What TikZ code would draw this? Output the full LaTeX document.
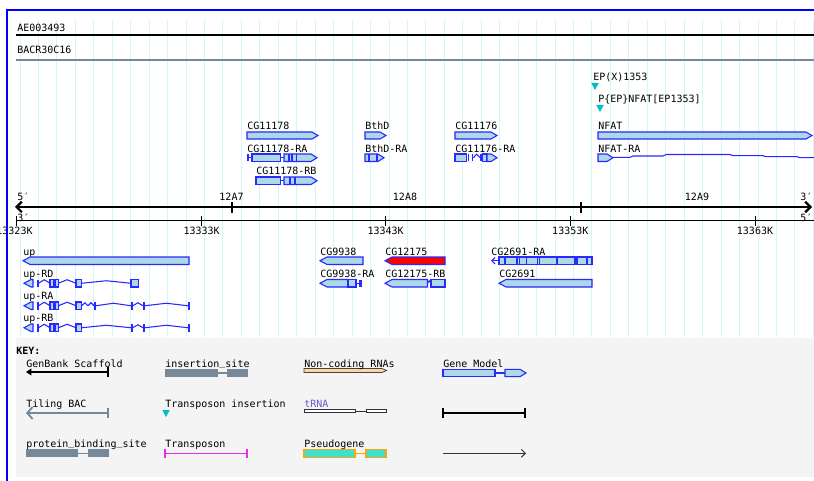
\documentclass[tikz,border=0pt]{standalone}
\usepackage{fontspec}
\newfontfamily\gbf{DejaVu Sans Mono}
\usetikzlibrary{arrows.meta}
\definecolor{gridc}{RGB}{212,245,250}
\definecolor{genefill}{RGB}{173,216,230}
\definecolor{genestroke}{RGB}{40,40,255}
\definecolor{slate}{RGB}{119,136,153}
\definecolor{keybg}{RGB}{244,244,244}
\definecolor{tmark}{RGB}{0,190,200}
\definecolor{trnac}{RGB}{106,90,205}
\definecolor{pseudof}{RGB}{64,224,208}
\definecolor{pseudos}{RGB}{255,165,0}
\definecolor{ncfill}{RGB}{245,215,180}
\definecolor{ncstroke}{RGB}{90,60,40}
\definecolor{magentac}{RGB}{235,40,235}
\definecolor{framec}{RGB}{0,0,255}
\newcommand\uscore{\raisebox{1.5pt}{\_}}
\tikzset{
  lbl/.style={anchor=base west,inner sep=0pt,font=\gbf\fontsize{7.5pt}{9pt}\selectfont},
  clbl/.style={lbl,anchor=base},
  gene/.style={draw=genestroke,fill=genefill,line width=0.8pt,line join=miter},
  intron/.style={draw=genestroke,line width=0.8pt},
}
% forward gene box: x1 x2 ytop ybot
\newcommand\gF[4]{\draw[gene] (#1,#3) -- (#2-6,#3) -- (#2,{(#3+#4)/2}) -- (#2-6,#4) -- (#1,#4) -- cycle;}
% reverse gene box: tip x1, end x2
\newcommand\gR[5][genefill]{\draw[gene,fill=#1] (#2,{(#4+#5)/2}) -- (#2+7,#4) -- (#3,#4) -- (#3,#5) -- (#2+7,#5) -- cycle;}
% exon box
\newcommand\gB[4]{\draw[gene] (#1,#3) rectangle (#2,#4);}
% divider inside box
\newcommand\gD[3]{\draw[genestroke,line width=0.8pt] (#1,#2) -- (#1,#3);}
% thin exon
\newcommand\gT[3]{\fill[genestroke] (#1,#2) rectangle (#1+1.8,#3);}
% hat intron: x1 x2 ymid height
\newcommand\gH[4]{\draw[intron] (#1,#3) -- ({(#1+#2)/2},#3-#4) -- (#2,#3);}
% straight intron
\newcommand\gL[3]{\draw[intron] (#1,#3) -- (#2,#3);}
\begin{document}
\begin{tikzpicture}[x=0.75pt,y=-0.75pt]
\useasboundingbox (0,0) rectangle (814,481);
\fill[white] (0,0) rectangle (814,481);
% grid
\foreach \k in {0,...,43} \draw[gridc,line width=0.75pt] ({20+18.45*\k},20) -- ({20+18.45*\k},337);
% key background
\fill[keybg] (16,338) rectangle (814,477);

% scaffold and BAC
\node[lbl] (ae) at (17,31.5) {AE003493};
\draw[black,line width=1.5pt] (16,35) -- (814,35);
\node[lbl] (bac) at (17,53.5) {BACR30C16};
\draw[slate,line width=1.7pt] (16,60) -- (814,60);

% transposon insertions
\node[lbl] (ep1) at (593,81) {EP(X)1353};
\fill[tmark] (591.3,83) -- (598.7,83) -- (595,90) -- cycle;
\node[lbl] (ep2) at (598,103) {P\{EP\}NFAT[EP1353]};
\fill[tmark] (596.3,105) -- (603.7,105) -- (600,112) -- cycle;

% upper genes row 1
\node[lbl] (g1) at (247,130) {CG11178};
\gF{247}{318}{132}{139}
\node[lbl] (g2) at (365,130) {BthD};
\gF{365}{386}{132}{139}
\node[lbl] (g3) at (455,130) {CG11176};
\gF{455}{497}{132}{139}
\node[lbl] (g4) at (598,130) {NFAT};
\gF{598}{812}{132}{139}

% upper genes row 2
\node[lbl] (t1) at (247,152.5) {CG11178-RA};
\gT{247}{154}{161.5}
\gL{249}{252}{157.75}
\gB{252}{280.7}{154}{161.5}
\gL{280.7}{284}{157.75}
\gF{284}{317}{154}{161.5}
\gD{289}{154}{161.5}\gD{292}{154}{161.5}\gD{296.5}{154}{161.5}
\node[lbl] (t2) at (365,152.5) {BthD-RA};
\gF{365}{384}{154}{161.5}
\gD{369}{154}{161.5}\gD{377}{154}{161.5}
\node[lbl] (t3) at (455,152.5) {CG11176-RA};
\gB{455}{466.5}{154}{161.5}
\gT{467.5}{154}{161.5}
\gT{471.5}{154}{161.5}
\gH{473.3}{480}{157.75}{3.5}
\gT{480}{154}{161.5}
\gB{482.5}{487}{154}{161.5}
\gF{487}{497}{154}{161.5}
\node[lbl] (t4) at (598,152.5) {NFAT-RA};
\gF{598}{613}{154}{161.5}
\draw[intron] (613,157.3) -- (630,157.3) -- (633,156) -- (663,156) -- (666,154.5) -- (730,154.5) -- (733,155.7) -- (763,155.7) -- (766,156.7) -- (797,156.7) -- (800,157.7) -- (814,157.7);

% upper genes row 3
\node[lbl] (t5) at (256,175) {CG11178-RB};
\gB{256}{280.5}{177}{184.5}
\gL{280.5}{284}{180.75}
\gF{284}{317}{177}{184.5}
\gD{290}{177}{184.5}\gD{295}{177}{184.5}

% axis
\draw[black,line width=2pt,{Straight Barb[length=4pt,width=8pt,line width=1.6pt]}-{Straight Barb[length=4pt,width=8pt,line width=1.6pt]}] (15,207) -- (812,207);
\draw[black,line width=1.5pt] (232,202) -- (232,213);
\draw[black,line width=1.5pt] (581,202) -- (581,213);
\node[lbl] (p5l) at (17,200) {5′};
\node[clbl] (b7) at (231.5,200.5) {12A7};
\node[clbl] (b8) at (405,200.5) {12A8};
\node[clbl] (b9) at (697,200.5) {12A9};
\node[lbl] (p3r) at (800,200.5) {3′};
\node[lbl] (p3l) at (17,221) {3′};
\node[lbl] (p5r) at (800,221.5) {5′};

% scale
\draw[black,line width=0.75pt] (17,221) -- (814,221);
\foreach \xx/\tt [count=\i] in {16.7/13323K,201.7/13333K,385.7/13343K,570.3/13353K,755/13363K}{
  \draw[black,line width=0.75pt] (\xx,216.5) -- (\xx,226);
}
\node[clbl] (s1) at (14.5,234) {13323K};
\node[clbl] (s2) at (201.7,234) {13333K};
\node[clbl] (s3) at (385.7,234) {13343K};
\node[clbl] (s4) at (570.3,234) {13353K};
\node[clbl] (s5) at (755,234) {13363K};

% lower genes row A
\node[lbl] (u0) at (23,255.5) {up};
\gR{23}{189}{257}{264.5}
\node[lbl] (c1) at (320,255.5) {CG9938};
\gR{320}{363}{257}{264.5}
\node[lbl] (c2) at (385,255.5) {CG12175};
\gR[red]{385}{445}{257}{264.5}
\node[lbl] (c3) at (491,255.5) {CG2691-RA};
\draw[genestroke,line width=0.8pt,-{Straight Barb[length=2.5pt,width=5pt]}] (499,260.75) -- (491,260.75);
\gB{499}{575}{257}{264.5}
\foreach \d in {505,517,519.5,526.5,537.5,539.5,557} {\gD{\d}{257}{264.5}}
\gH{575}{577}{260.75}{2}
\gB{577}{592}{257}{264.5}
\gD{587}{257}{264.5}

% lower genes row B
\node[lbl] (u1) at (23,277.5) {up-RD};
\gR{24}{33}{279.5}{287}
\gT{36.7}{279.5}{287}
\gH{38.5}{50}{283.25}{3.5}
\gB{50}{58.3}{279.5}{287}
\gD{53.3}{279.5}{287}\gD{55}{279.5}{287}
\gH{58.3}{76}{283.25}{3.5}
\gB{76}{81.7}{279.5}{287}
\gH{81.7}{131}{283.25}{2.5}
\gB{131}{138.3}{279.5}{287}
\node[lbl] (c4) at (320,277.5) {CG9938-RA};
\gR{320}{348}{279.5}{287}
\gB{348}{356}{279.5}{287}
\gL{356}{358.5}{283.25}
\fill[genestroke] (358.5,279.5) rectangle (362,287);
\node[lbl] (c5) at (385,277.5) {CG12175-RB};
\gR{385}{427.5}{279.5}{287}
\gH{427.5}{431}{283.25}{2.5}
\gB{431}{445}{279.5}{287}
\node[lbl] (c6) at (499,277.5) {CG2691};
\gR{499}{592}{279.5}{287}

% up-RA
\node[lbl] (u2) at (23,299.5) {up-RA};
\gR{24}{33}{302}{309.5}
\gT{36.7}{302}{309.5}
\gH{38.5}{50}{305.75}{3.5}
\gB{50}{58.3}{302}{309.5}
\gD{53.3}{302}{309.5}\gD{55}{302}{309.5}
\gH{58.3}{76}{305.75}{3.5}
\gB{76}{81.7}{302}{309.5}
\gH{81.7}{88}{305.75}{3}
\gH{88}{94}{305.75}{3}
\gT{94}{302}{309.5}
\gH{95.8}{131}{305.75}{2.5}
\gT{131}{302}{309.5}
\gH{132.8}{143}{305.75}{3}
\gT{143}{302}{309.5}
\gH{144.8}{188}{305.75}{2.5}
\gT{188}{302}{309.5}

% up-RB
\node[lbl] (u3) at (23,321.5) {up-RB};
\gR{24}{33}{324}{331.5}
\gT{36.7}{324}{331.5}
\gH{38.5}{50}{327.75}{3.5}
\gB{50}{58.3}{324}{331.5}
\gD{53.3}{324}{331.5}\gD{55}{324}{331.5}
\gH{58.3}{76}{327.75}{3.5}
\gB{76}{81.7}{324}{331.5}
\gH{81.7}{131}{327.75}{2.5}
\gT{131}{324}{331.5}
\gH{132.8}{143}{327.75}{3}
\gT{143}{324}{331.5}
\gH{144.8}{188}{327.75}{2.5}
\gT{188}{324}{331.5}

% KEY glyphs
\draw[black,line width=1.3pt,{Triangle[length=4pt,width=5pt]}-] (26,372) -- (108,372);
\draw[black,line width=1.1pt] (108,367) -- (108,377);
\fill[slate] (165,369.3) rectangle (218,376.7);
\draw[slate,line width=0.8pt] (218,373) -- (227,373);
\fill[slate] (227,369.3) rectangle (248,376.7);
\draw[draw=ncstroke,fill=ncfill,line width=0.6pt] (304,368.5) -- (382,368.5) -- (386.5,370.5) -- (382,372.5) -- (304,372.5) -- cycle;
\gB{443}{495}{369.3}{376.7}
\gL{495}{505}{373}
\gF{505}{526}{369.3}{376.7}
\draw[slate,line width=1.6pt,{Straight Barb[length=4pt,width=9pt,line width=1.4pt]}-] (26,413) -- (108,413);
\draw[slate,line width=1.2pt] (108,408) -- (108,418);
\fill[tmark] (162.3,410) -- (169.7,410) -- (166,417) -- cycle;
\draw[black!80,fill=white,line width=0.6pt] (304,409.3) rectangle (355,412.7);
\draw[black!80,line width=0.6pt] (355,411) -- (366,411);
\draw[black!80,fill=white,line width=0.6pt] (366,409.3) rectangle (386,412.7);
\draw[black,line width=1.8pt] (443,413) -- (525,413);
\draw[black,line width=1.5pt] (443,408) -- (443,418);
\draw[black,line width=1.5pt] (525,408) -- (525,418);
\fill[slate] (26,449.3) rectangle (78,457.3);
\draw[slate,line width=0.8pt] (78,453.3) -- (88,453.3);
\fill[slate] (88,449.3) rectangle (109,457.3);
\draw[magentac,line width=0.8pt] (165,453.3) -- (247,453.3);
\draw[magentac,line width=0.8pt] (165,448.5) -- (165,458);
\draw[magentac,line width=0.8pt] (247,448.5) -- (247,458);
\draw[draw=pseudos,fill=pseudof,line width=0.8pt] (304,449.3) rectangle (355,457.3);
\draw[pseudos,line width=0.8pt] (355,453.3) -- (366,453.3);
\draw[draw=pseudos,fill=pseudof,line width=0.8pt] (366,449.3) rectangle (386,457.3);
\draw[black!80,line width=0.7pt,-{Straight Barb[length=3pt,width=6pt]}] (443,453.3) -- (526,453.3);

% KEY texts
\node[lbl,font=\gbf\bfseries\fontsize{7.5pt}{9pt}\selectfont] (key) at (16,354) {KEY:};
\node[lbl] (k1) at (26,367.5) {GenBank Scaffold};
\node[lbl] (k2) at (165,367.5) {insertion\uscore site};
\node[lbl] (k3) at (304,367.5) {Non-coding RNAs};
\node[lbl] (k4) at (443,367.5) {Gene Model};
\node[lbl] (k5) at (26,407.5) {Tiling BAC};
\node[lbl] (k6) at (165,407.5) {Transposon insertion};
\node[lbl,text=trnac] (k7) at (304,407.5) {tRNA};
\node[lbl] (k8) at (26,447.5) {protein\uscore binding\uscore site};
\node[lbl] (k9) at (165,447.5) {Transposon};
\node[lbl] (k10) at (304,447.5) {Pseudogene};

% frame
\draw[framec,line width=1.1pt] (7,481) -- (7,10) -- (814,10);
\end{tikzpicture}
\end{document}
